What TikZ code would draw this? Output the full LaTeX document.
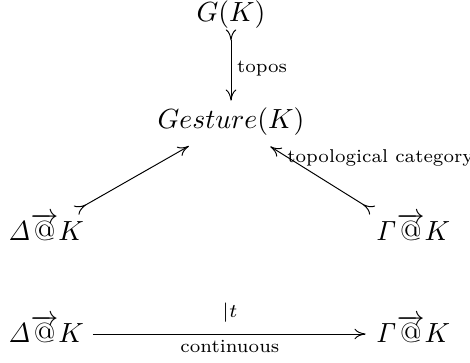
\documentclass[tikz,border=0pt]{standalone}
\usetikzlibrary{arrows.meta}
\begin{document}
\begin{tikzpicture}[x=0.361pt, y=-0.361pt,
        obj/.style={inner sep=1pt},
        lbl/.style={font=\fontsize{6.7}{8}\selectfont, inner sep=2pt},
        tip/.tip={Computer Modern Rightarrow[length=4pt, width=3.8pt]},
        arrow/.style={-tip, line width=0.35pt},
        tailarrow/.style={{tip[reversed]}-tip, line width=0.35pt},
    ]
    \useasboundingbox (0,0) rectangle (470,362);

    % ====== objects ======
    \node[obj] (gk)   at (231, 15)  {$G(K)$};
    \node[obj] (gest) at (231, 122) {$Gesture(K)$};
    \node[obj] (dl)   at (46, 227)  {$\mathit{\Delta}\overrightarrow{@}K$};
    \node[obj] (gm)   at (413, 227) {$\mathit{\Gamma}\overrightarrow{@}K$};
    \node[obj] (dlb)  at (46, 329)  {$\mathit{\Delta}\overrightarrow{@}K$};
    \node[obj] (gmb)  at (413, 329) {$\mathit{\Gamma}\overrightarrow{@}K$};

    % ====== arrows ======
    \draw[tailarrow, shorten <=-1pt, shorten >=1.5pt] (gk.south) -- (gest.north)
        node[midway, right, lbl] {topos};
    \draw[tailarrow, shorten >=5pt] ([xshift=-4pt]dl.north east) -- (gest);
    \draw[tailarrow, shorten >=5pt] (gm.north west) -- (gest)
        node[pos=0.8, anchor=west, lbl, yshift=-1.8pt] {topological category};

    % bottom row
    \draw[arrow, shorten <=2pt, shorten >=2.5pt]
        ([yshift=-1.8pt]dlb.east) -- ([yshift=-1.8pt]gmb.west)
        node[midway, above=2pt, lbl] {$|t$}
        node[midway, below, lbl] {continuous};
\end{tikzpicture}
\end{document}
